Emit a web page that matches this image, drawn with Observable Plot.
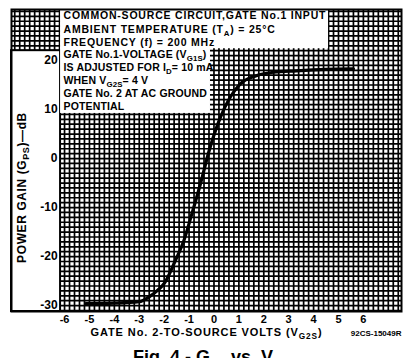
<!DOCTYPE html>
<html><head><meta charset="utf-8">
<script src="https://cdn.jsdelivr.net/npm/d3@7"></script>
<script src="https://cdn.jsdelivr.net/npm/@observablehq/plot@0.6"></script>
<style>
html,body{margin:0;padding:0;background:#fff;}
body{width:404px;height:358px;overflow:hidden;position:relative;font-family:"Liberation Sans",Arial,sans-serif;}
#chart svg{display:block;}
#fig{position:absolute;left:133px;top:347px;font-weight:bold;font-size:18px;white-space:nowrap;color:#000;}
#fig sub{font-size:12px;}
</style></head><body>
<div id="chart"></div>
<div id="fig">Fig. 4 - G<sub>PS</sub> vs. V<sub>G2S</sub></div>
<script>
// Data: power gain (dB) vs gate-2-to-source volts
const vg2s = [-5.15, -4.0, -3.0, -2.6, -2.2, -2.0, -1.55, -1.2, -0.9, -0.55, -0.2, 0.25, 0.65, 1.05, 1.7, 2.4, 3.3, 4.5, 5.6];
const gps  = [-29.6, -29.5, -29.2, -28.2, -26.6, -25.5, -20.8, -16.6, -11.5, -5.3, 1.5, 8.3, 12.5, 15.2, 16.9, 17.6, 17.9, 18.2, 18.3];
const xTicks = [-6, -5, -4, -3, -2, -1, 0, 1, 2, 3, 4, 5, 6];
const yTicks = [20, 10, 0, -10, -20, -30];
const noteTop = ["COMMON-SOURCE CIRCUIT,GATE No.1 INPUT", "AMBIENT TEMPERATURE (T_{A}) = 25°C", "FREQUENCY (f) = 200 MHz"];
const noteBottom = ["GATE No.1-VOLTAGE (V_{G1S})", "IS ADJUSTED FOR I_{D}= 10 mA", "WHEN V_{G2S}= 4 V", "GATE No. 2 AT AC GROUND", "POTENTIAL"];
const xLabel = "GATE No. 2-TO-SOURCE VOLTS (V_{G2S})";
const yLabel = "POWER GAIN (G_{PS})—dB";
const figCode = "92CS-15049R";

const data = vg2s.map((v, i) => ({v, g: gps[i]}));

// layout (scale extents of the graph-paper frame)
const X0 = -8.13, X1 = 7.53, Y0 = -31.2, Y1 = 30.4;
const gridLeft = -6.16;
const leftBoxTop = 22.0;
const boxes = [
  {x1: gridLeft, x2: 4.6, y1: 22.4, y2: Y1},
  {x1: gridLeft, x2: -0.14, y1: 9.2, y2: 22.6}
];
const leftBox = [{x1: X0, x2: gridLeft, y1: Y0, y2: leftBoxTop}];

const fmt = d => d < 0 ? "-" + Math.abs(d) : String(d);
const font = "Liberation Sans, Arial, sans-serif";

const chart = Plot.plot({
  width: 404, height: 340,
  marginTop: 9, marginBottom: 29, marginLeft: 11, marginRight: 3,
  style: {fontFamily: font, fontWeight: "bold", color: "#000", background: "#fff"},
  x: {domain: [X0, X1], axis: null},
  y: {domain: [Y0, Y1], axis: null},
  marks: [
    Plot.ruleX(d3.range(-40, 38).map(i => i * 0.2), {stroke: "#000", strokeWidth: 1.7}),
    Plot.ruleY(d3.range(-31, 31), {stroke: "#000", strokeWidth: 1.7}),
    Plot.rect(leftBox, {x1: "x1", x2: "x2", y1: "y1", y2: "y2", fill: "#fff", stroke: "#000", strokeWidth: 2}),
    Plot.rect(boxes, {x1: "x1", x2: "x2", y1: "y1", y2: "y2", fill: "#fff"}),
    Plot.line(data, {x: "v", y: "g", curve: "monotone-x", stroke: "#000", strokeWidth: 3.2}),
    Plot.frame({stroke: "#000", strokeWidth: 2}),
    Plot.text(xTicks, {x: d => d, frameAnchor: "bottom", text: fmt, dy: 8, lineAnchor: "middle", fontSize: 11, fontWeight: "bold"}),
    Plot.text(yTicks, {x: () => gridLeft, y: d => d, text: fmt, textAnchor: "end", dx: -3, fontSize: 12, fontWeight: "bold"}),
    Plot.text([noteTop.join("\n")], {frameAnchor: "top-left", dx: 52, dy: -0.5, lineHeight: 1.31, textAnchor: "start", fontSize: 10.5, fontWeight: "bold"}),
    Plot.text([noteBottom.join("\n")], {frameAnchor: "top-left", dx: 52, dy: 39, lineHeight: 1.25, textAnchor: "start", fontSize: 10.5, fontWeight: "bold"}),
    Plot.text([xLabel], {frameAnchor: "bottom", dx: 0, dy: 21, lineAnchor: "middle", textAnchor: "middle", fontSize: 11, fontWeight: "bold"}),
    Plot.text([figCode], {frameAnchor: "bottom-right", dy: 22, lineAnchor: "middle", textAnchor: "end", fontSize: 8, fontWeight: "bold"}),
    Plot.text([yLabel], {frameAnchor: "left", rotate: -90, dx: 11, dy: 27, lineAnchor: "middle", textAnchor: "middle", fontSize: 12, fontWeight: "bold"})
  ]
});

// letter spacing for the typewriter-like labels (matched by their leading words)
const spacing = [["COMMON", "0.8px"], ["GATE No.1-", "0.15px"], ["GATE No. 2-TO", "0.9px"], ["POWER", "0.6px"]];
chart.querySelectorAll("text").forEach(t => {
  const s = spacing.find(([k]) => t.textContent.startsWith(k));
  if (s) t.setAttribute("letter-spacing", s[1]), t.style.letterSpacing = s[1];
});

// convert _{...} markup into subscript tspans
const NS = "http://www.w3.org/2000/svg";
chart.querySelectorAll("text, tspan").forEach(el => {
  for (const node of [...el.childNodes]) {
    if (node.nodeType !== 3 || !node.nodeValue.includes("_{")) continue;
    const frag = document.createDocumentFragment();
    for (const p of node.nodeValue.split(/(_\{[^}]*\})/)) {
      if (!p) continue;
      const m = p.match(/^_\{(.*)\}$/);
      const t = document.createElementNS(NS, "tspan");
      if (m) { t.textContent = m[1]; t.setAttribute("baseline-shift", "-2.5px"); t.setAttribute("font-size", "0.75em"); }
      else t.textContent = p;
      frag.appendChild(t);
    }
    el.replaceChild(frag, node);
  }
});
document.getElementById("chart").appendChild(chart);
</script>
</body></html>
